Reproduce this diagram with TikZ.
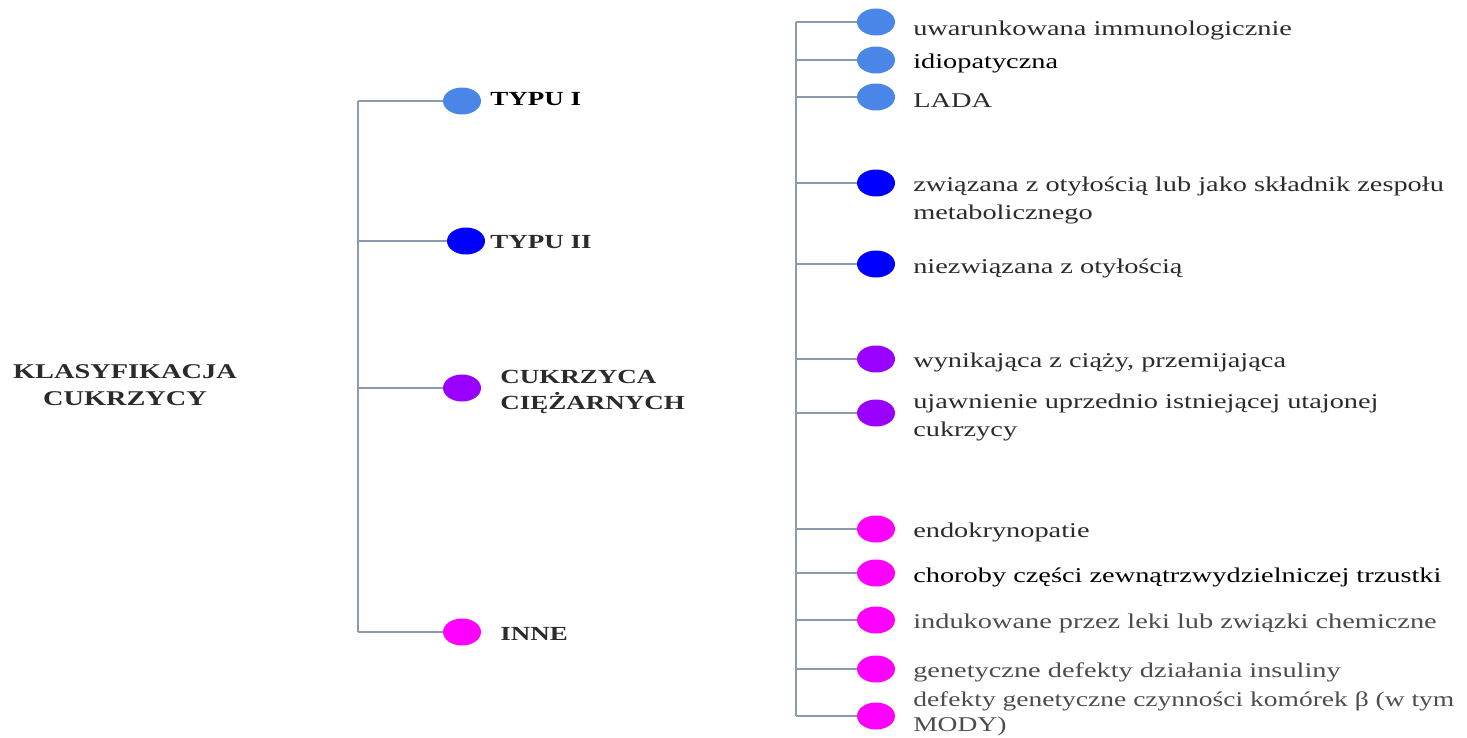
\documentclass[tikz,border=0pt]{standalone}
\usepackage{fontspec}
\setmainfont{Liberation Serif}
\usetikzlibrary{shapes.geometric}
\definecolor{typ1}{HTML}{4A86E8}
\definecolor{typ2}{HTML}{0000FF}
\definecolor{ciaza}{HTML}{9900FF}
\definecolor{inne}{HTML}{FF00FF}
\definecolor{linia}{HTML}{8A9BAB}
\definecolor{napis}{HTML}{2B2B2B}

\begin{document}
\begin{tikzpicture}[x=1pt, y=-1pt,
  kolo/.style={ellipse, minimum width=38pt, minimum height=27pt, inner sep=0pt},
  galaz/.style={draw=linia, line width=1.3pt},
  tytul/.style={xscale=1.35, font=\fontsize{21}{27}\bfseries, text=napis, align=center, inner sep=0pt},
  grupa/.style={anchor=west, xscale=1.35, font=\fontsize{20}{26}\bfseries, text=napis, align=left, inner sep=0pt},
  opis/.style={anchor=west, xscale=1.35, font=\fontsize{21}{28}\selectfont, text=napis, align=left, inner sep=0pt}]
\useasboundingbox (0,0) rectangle (1467,737);

\node[tytul] (klas) at (125,385) {KLASYFIKACJA\\CUKRZYCY};

\coordinate (lewy) at (358,0);
\node[kolo, fill=typ1] (t1) at (462,101) {};
\node[kolo, fill=typ2] (t2) at (466,241) {};
\node[kolo, fill=ciaza] (ci) at (462,388) {};
\node[kolo, fill=inne] (in) at (462,632) {};
\node[grupa, text=black] (lt1) at (490,99) {TYPU I};
\node[grupa] (lt2) at (490,242) {TYPU II};
\node[grupa] (lci) at (500,392) {CUKRZYCA\\CIĘŻARNYCH};
\node[grupa] (lin) at (500,634) {INNE};

\draw[galaz] (t1 -| lewy) -- (in -| lewy);
\draw[galaz] (t1 -| lewy) -- (t1.west);
\draw[galaz] (t2 -| lewy) -- (t2.west);
\draw[galaz] (ci -| lewy) -- (ci.west);
\draw[galaz] (in -| lewy) -- (in.west);

\coordinate (prawy) at (796,0);
\node[kolo, fill=typ1] (a1) at (876,22) {};
\node[kolo, fill=typ1] (a2) at (876,60) {};
\node[kolo, fill=typ1] (a3) at (876,97) {};
\node[kolo, fill=typ2] (b1) at (876,183) {};
\node[kolo, fill=typ2] (b2) at (876,264) {};
\node[kolo, fill=ciaza] (c1) at (876,359) {};
\node[kolo, fill=ciaza] (c2) at (876,413) {};
\node[kolo, fill=inne] (d1) at (876,529) {};
\node[kolo, fill=inne] (d2) at (876,573) {};
\node[kolo, fill=inne] (d3) at (876,620) {};
\node[kolo, fill=inne] (d4) at (876,669) {};
\node[kolo, fill=inne] (d5) at (876,716) {};

\node[opis] (la1) at (913,30) {uwarunkowana immunologicznie};
\node[opis, text=black] (la2) at (913,63) {idiopatyczna};
\node[opis] (la3) at (913,101) {LADA};
\node[opis] (lb1) at (913,200) {związana z otyłością lub jako składnik zespołu\\metabolicznego};
\node[opis] (lb2) at (913,268) {niezwiązana z otyłością};
\node[opis] (lc1) at (913,362) {wynikająca z ciąży, przemijająca};
\node[opis] (lc2) at (913,417) {ujawnienie uprzednio istniejącej utajonej\\cukrzycy};
\node[opis] (ld1) at (913,532) {endokrynopatie};
\node[opis, text=black] (ld2) at (913,577) {choroby części zewnątrzwydzielniczej trzustki};
\node[opis, text=black!70] (ld3) at (913,623) {indukowane przez leki lub związki chemiczne};
\node[opis, text=black!70] (ld4) at (913,672) {genetyczne defekty działania insuliny};
\node[opis, text=black!70, xscale=1.31/1.35, font=\fontsize{21}{25}\selectfont] (ld5) at (913,714) {defekty genetyczne czynności komórek β (w tym\\MODY)};

\draw[galaz] (a1 -| prawy) -- (d5 -| prawy);
\draw[galaz] (a1 -| prawy) -- (a1.west);
\draw[galaz] (a2 -| prawy) -- (a2.west);
\draw[galaz] (a3 -| prawy) -- (a3.west);
\draw[galaz] (b1 -| prawy) -- (b1.west);
\draw[galaz] (b2 -| prawy) -- (b2.west);
\draw[galaz] (c1 -| prawy) -- (c1.west);
\draw[galaz] (c2 -| prawy) -- (c2.west);
\draw[galaz] (d1 -| prawy) -- (d1.west);
\draw[galaz] (d2 -| prawy) -- (d2.west);
\draw[galaz] (d3 -| prawy) -- (d3.west);
\draw[galaz] (d4 -| prawy) -- (d4.west);
\draw[galaz] (d5 -| prawy) -- (d5.west);

\end{tikzpicture}
\end{document}
